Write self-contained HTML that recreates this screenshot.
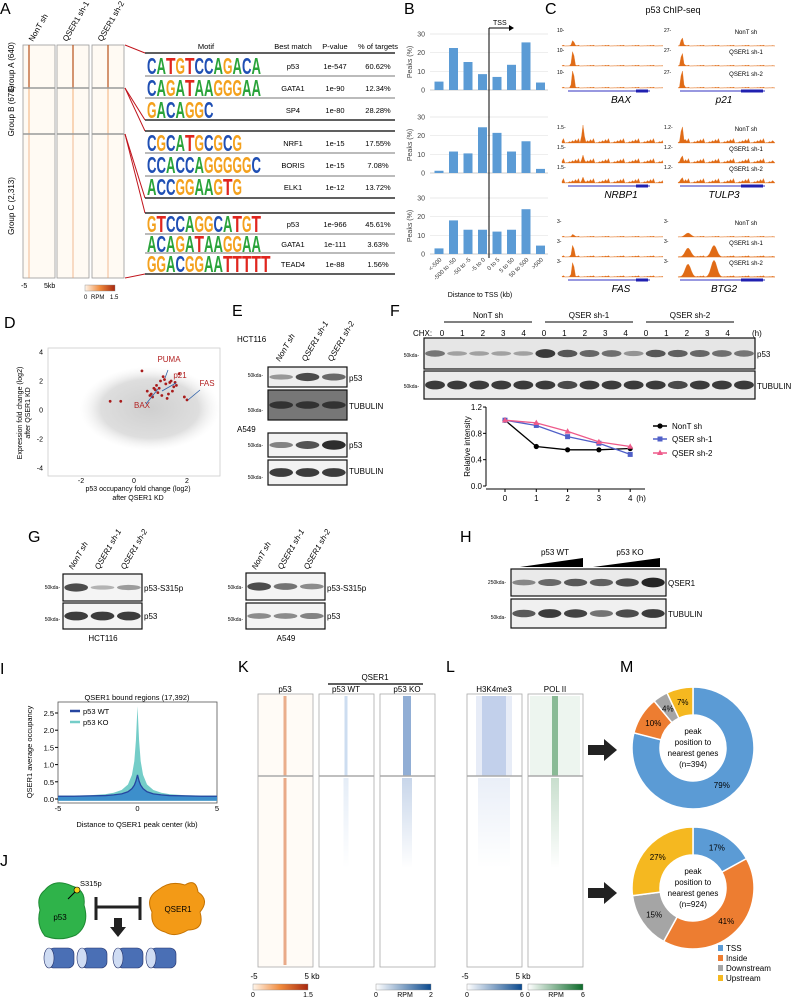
<!DOCTYPE html>
<html><head><meta charset="utf-8">
<style>
html,body{margin:0;padding:0;background:#fff;}
#fig{position:relative;width:798px;height:997px;overflow:hidden;font-family:"Liberation Sans",sans-serif;}
svg text{font-family:"Liberation Sans",sans-serif;}
</style></head>
<body>
<div id="fig">
<svg id="s" width="798" height="997" viewBox="0 0 798 997" xmlns="http://www.w3.org/2000/svg">
<defs>
<linearGradient id="gOr" x1="0" x2="1"><stop offset="0" stop-color="#fff5ea"/><stop offset="0.5" stop-color="#f08a3c"/><stop offset="1" stop-color="#a8280f"/></linearGradient>
<linearGradient id="gBl" x1="0" x2="1"><stop offset="0" stop-color="#fff"/><stop offset="1" stop-color="#0b4a8f"/></linearGradient>
<linearGradient id="gGr" x1="0" x2="1"><stop offset="0" stop-color="#fff"/><stop offset="1" stop-color="#0d6b2a"/></linearGradient>
<radialGradient id="cloud"><stop offset="0" stop-color="#cfcfcf"/><stop offset="0.7" stop-color="#dedede"/><stop offset="1" stop-color="#f2f2f2" stop-opacity="0"/></radialGradient>
<linearGradient id="fadeV" x1="0" y1="0" x2="0" y2="1"><stop offset="0" stop-color="#fff" stop-opacity="0"/><stop offset="1" stop-color="#fff" stop-opacity="1"/></linearGradient>
</defs>
<g font-size="16">
<text x="0" y="14">A</text>
<text x="404" y="14">B</text>
<text x="545" y="14">C</text>
<text x="4" y="328">D</text>
<text x="232" y="316">E</text>
<text x="390" y="316">F</text>
<text x="28" y="542">G</text>
<text x="460" y="542">H</text>
<text x="0" y="674">I</text>
<text x="0" y="866">J</text>
<text x="238" y="672">K</text>
<text x="446" y="672">L</text>
<text x="620" y="672">M</text>
</g>
<g id="A"></g><g id="B"></g><g id="C"></g><g id="D"></g><g id="E"></g><g id="F"></g><g id="G"></g><g id="H"></g><g id="I"></g><g id="J"></g><g id="K"></g><g id="M"></g>
</svg>
</div>
<script>
var NS="http://www.w3.org/2000/svg";
function mk(p,tag,a,txt){var e=document.createElementNS(NS,tag);for(var k in a)e.setAttribute(k,a[k]);if(txt!==undefined)e.textContent=txt;p.appendChild(e);return e;}
function G(id){return document.getElementById(id);}

/* ---------- Panel A ---------- */
var A=G('A');
var hmCols=[[23,29,'NonT sh'],[57,73,'QSER1 sh-1'],[92,108,'QSER1 sh-2']];
hmCols.forEach(function(c,i){
  var r=mk(A,'rect',{x:c[0],y:45,width:32,height:233,fill:'#fffaf3',stroke:'#999','stroke-width':0.8});
  
  
  mk(A,'rect',{x:c[1]-0.6,y:45,width:1.2,height:43,fill:'#b8501a'});
  mk(A,'rect',{x:c[1]-0.5,y:88,width:1,height:46,fill:'#f3b07a'});
  mk(A,'rect',{x:c[1]-0.5,y:134,width:1,height:144,fill:'#eaa06a',opacity:0.7});
  mk(A,'line',{x1:c[0],x2:c[0]+32,y1:88,y2:88,stroke:'#999','stroke-width':1.5});
  mk(A,'line',{x1:c[0],x2:c[0]+32,y1:134,y2:134,stroke:'#999','stroke-width':1.5});
  var t=mk(A,'text',{x:0,y:0,'font-size':8,transform:'translate('+(c[0]+10)+',42) rotate(-60)'},c[2]);
  
  
});
[['Group A (640)',67],['Group B (678)',111],['Group C (2,313)',206]].forEach(function(g){
  var t=mk(A,'text',{x:0,y:0,'font-size':8,'text-anchor':'middle',transform:'translate(14,'+g[1]+') rotate(-90)'},g[0]);
  
  
});
mk(A,'text',{x:21,y:288,'font-size':7},'-5');
mk(A,'text',{x:44,y:288,'font-size':7},'5kb');
var cb=mk(A,'rect',{x:85,y:285,width:30,height:6,fill:'url(#gOr)',stroke:'#888','stroke-width':0.4});


mk(A,'text',{x:84,y:299,'font-size':6},'0');
mk(A,'text',{x:91,y:299,'font-size':6},'RPM');
mk(A,'text',{x:110,y:299,'font-size':6},'1.5');
[[125,45,145,53],[125,88,145,120],[125,88,145,131],[125,134,145,198],[125,134,145,213],[125,278,145,274]].forEach(function(l){mk(A,'line',{x1:l[0],y1:l[1],x2:l[2],y2:l[3],stroke:'#c0141c','stroke-width':1});});
var hdr=[['Motif',206],['Best match',293],['P-value',335],['% of targets',378]];
hdr.forEach(function(h){var t=mk(A,'text',{x:h[1],y:49,'font-size':7.5,'text-anchor':'middle'},h[0]);});
var motifs=[['CATGTCCAGACA','p53','1e-547','60.62%',66],['CAGATAAGGGAA','GATA1','1e-90','12.34%',88],['GACAGGC','SP4','1e-80','28.28%',110],
 ['CGCATGCGCG','NRF1','1e-15','17.55%',143],['CCACCAGGGGGC','BORIS','1e-15','7.08%',165],['ACCGGAAGTG','ELK1','1e-12','13.72%',187],
 ['GTCCAGGCATGT','p53','1e-966','45.61%',224],['ACAGATAAGGAA','GATA1','1e-111','3.63%',244],['GGACGGAATTTTT','TEAD4','1e-88','1.56%',264]];
var col={A:'#2aa33a',C:'#1f4fb4',G:'#f4a11d',T:'#e0261f'};
motifs.forEach(function(m){
  var g=mk(A,'g',{});
  
  
  for(var i=0;i<m[0].length;i++){var ch=m[0][i];
    mk(g,'text',{x:147+i*9.5,y:m[4]+8,'font-size':23,'font-weight':'bold',fill:col[ch],textLength:9.5,lengthAdjust:'spacingAndGlyphs'},ch);}
  mk(g,'text',{x:293,y:m[4]+3,'font-size':7.5,'text-anchor':'middle'},m[1]);
  mk(g,'text',{x:335,y:m[4]+3,'font-size':7.5,'text-anchor':'middle'},m[2]);
  mk(g,'text',{x:378,y:m[4]+3,'font-size':7.5,'text-anchor':'middle'},m[3]);
});
[53,120,131,198,213,274].forEach(function(y){mk(A,'line',{x1:145,x2:395,y1:y,y2:y,stroke:'#000','stroke-width':1.2});});
[76,98,153,176,234,253].forEach(function(y){mk(A,'line',{x1:145,x2:395,y1:y,y2:y,stroke:'#777','stroke-width':1});});

/* ---------- Panel B ---------- */
var bCats=['<-500','-500 to -50','-50 to -5','-5 to 0','0 to 5','5 to 50','50 to 500','>500'];
var bTicks=[0,10,20,30];
var bTop=[4.5,22.5,15,8.5,7,13.5,25.5,4];
var bMid=[1.2,11.5,10.5,24.5,21.5,11.5,17,2.2];
var bBot=[3,18,13,13,12,13,24,4.5];
var B=G('B');
function bx(i){return 439+i*14.5;}
function drawBars(vals,y0,nm){
  var ys=function(v){return y0-v*56/30;};
  bTicks.forEach(function(t){
    mk(B,'line',{x1:430,x2:548,y1:ys(t),y2:ys(t),stroke:t?'#e3e3e3':'#bbb','stroke-width':0.7});
    mk(B,'text',{x:425,y:ys(t)+2.5,'font-size':7,'text-anchor':'end',fill:'#444'},t);
  });
  var yl=mk(B,'text',{x:0,y:0,'font-size':7,'text-anchor':'middle',fill:'#444',transform:'translate(412,'+(y0-28)+') rotate(-90)'},'Peaks (%)');
  
  
  vals.forEach(function(v,i){
    var r=mk(B,'rect',{x:bx(i)-4.5,y:ys(v),width:9,height:v*56/30,fill:'#5b9bd5'});
    
    
  });
}
drawBars(bTop,90,'b-top');drawBars(bMid,173,'b-mid');drawBars(bBot,254,'b-bot');
bCats.forEach(function(c,i){var t=mk(B,'text',{x:0,y:0,'font-size':6,'text-anchor':'end',fill:'#333',transform:'translate('+(bx(i)+3)+',260) rotate(-45)'},c);});
mk(B,'text',{x:480,y:297,'font-size':7,'text-anchor':'middle'},'Distance to TSS (kb)');
mk(B,'line',{x1:489,x2:489,y1:28,y2:258,stroke:'#000','stroke-width':1});
mk(B,'line',{x1:489,x2:510,y1:28,y2:28,stroke:'#000','stroke-width':1});
mk(B,'path',{d:'M509,25 L514,28 L509,31 Z',fill:'#000'});
mk(B,'text',{x:493,y:25,'font-size':7},'TSS');

/* ---------- Panel C ---------- */
var C=G('C');
mk(C,'text',{x:673,y:13,'font-size':9,'text-anchor':'middle'},'p53 ChIP-seq');
var cGenes=[['BAX','p21'],['NRBP1','TULP3'],['FAS','BTG2']];
var cBase=[[46,66,88],[143,163,183],[237,257,277]];
var cPeakL=[[6,16,19],[18,8,6],[3,13,16]];
var cPeakR=[[9,14,19],[18,8,6],[4,9,13]];
var cNoise=[[1,1,1],[5,5,5],[1,1.5,1.5]];
var cScale=[['10-','27-'],['1.5-','1.2-'],['3-','3-']];
function track(x0,x1,yb,pk,px,nz,broad){
  var d='M'+x0+','+yb;
  for(var x=x0;x<=x1;x+=1.5){
    var h=((x*7)%5)/5*nz*((x*13)%3>1?1:0.4);
    var dd=Math.abs(x-px); var w=broad?4:1.5;
    if(dd<w*2) h=Math.max(h,pk*Math.exp(-dd*dd/(w*w)));
    d+=' L'+x+','+(yb-h);
  }
  d+=' L'+x1+','+yb+' Z';
  return mk(C,'path',{d:d,fill:'#e06b16',stroke:'#e06b16','stroke-width':0.3});
}
for(var gi=0;gi<3;gi++){
  for(var t=0;t<3;t++){
    var p1=track(562,663,cBase[gi][t],cPeakL[gi][t],gi==1?583:573,cNoise[gi][t],false);
    
    
    var p2=track(678,775,cBase[gi][t],cPeakR[gi][t],gi==2?688:682,cNoise[gi][t],gi==2);
    
    
    if(gi==2&&t>0){track(678,775,cBase[gi][t],cPeakR[gi][t]*1.3,714,0,true);}
    mk(C,'text',{x:746,y:cBase[gi][t]-12,'font-size':6,'text-anchor':'middle'},['NonT sh','QSER1 sh-1','QSER1 sh-2'][t]);
    mk(C,'text',{x:557,y:cBase[gi][t]-14,'font-size':5},cScale[gi][0]);
    mk(C,'text',{x:664,y:cBase[gi][t]-14,'font-size':5},cScale[gi][1]);
  }
  var gy=cBase[gi][2]+3;
  mk(C,'line',{x1:568,x2:650,y1:gy,y2:gy,stroke:'#3030c0','stroke-width':1});
  mk(C,'rect',{x:636,y:gy-1.5,width:12,height:3,fill:'#2020b0'});
  mk(C,'line',{x1:680,x2:765,y1:gy,y2:gy,stroke:'#3030c0','stroke-width':1});
  mk(C,'rect',{x:741,y:gy-1.5,width:22,height:3,fill:'#2020b0'});
  var l1=mk(C,'text',{x:621,y:gy+12,'font-size':10,'font-style':'italic','text-anchor':'middle'},cGenes[gi][0]);
  
  
  var l2=mk(C,'text',{x:724,y:gy+12,'font-size':10,'font-style':'italic','text-anchor':'middle'},cGenes[gi][1]);
  
  
}

/* ---------- Panel D ---------- */
var dRedX=[1.0,1.2,0.8,1.5,0.6,0.9,1.3,1.1,0.7,1.6,1.4,0.95,1.25,0.5,1.05,1.7,0.85,1.35,0.75,1.15,-0.9,-0.5,1.9,2.0,0.65,1.45,1.55,0.3];
var dRedY=[2.0,1.8,1.4,1.6,1.0,1.2,1.1,2.3,0.9,1.7,2.0,1.5,0.8,1.3,1.0,2.5,1.7,1.9,1.5,2.1,0.6,0.6,0.9,0.7,1.1,1.3,1.9,2.7];
var dTicks=[-4,-2,0,2,4];
var D=G('D');
function dxs(v){return 134+v*26.5;}
function dys(v){return 410-v*14.5;}
var db=mk(D,'rect',{x:48,y:348,width:172,height:128,fill:'#fff',stroke:'#ccc','stroke-width':0.8});


var cl=mk(D,'ellipse',{cx:dxs(0.6),cy:dys(0.1),rx:70,ry:42,fill:'url(#cloud)'});


dRedX.forEach(function(x,i){var c=mk(D,'circle',{cx:dxs(x),cy:dys(dRedY[i]),r:1.4,fill:'#a81c1c'});});
[-2,0,2].forEach(function(t){mk(D,'text',{x:dxs(t),y:483,'font-size':7,'text-anchor':'middle'},t);});
dTicks.forEach(function(t){mk(D,'text',{x:43,y:dys(t)+2.5,'font-size':7,'text-anchor':'end'},t);});
mk(D,'text',{x:0,y:0,'font-size':7,'text-anchor':'middle',transform:'translate(22,413) rotate(-90)'},'Expression fold change (log2)');
mk(D,'text',{x:0,y:0,'font-size':7,'text-anchor':'middle',transform:'translate(30,413) rotate(-90)'},'after QSER1 KD');
mk(D,'text',{x:138,y:491,'font-size':7,'text-anchor':'middle'},'p53 occupancy fold change (log2)');
mk(D,'text',{x:138,y:500,'font-size':7,'text-anchor':'middle'},'after QSER1 KD');
[['PUMA',169,362,168,370,165,378],['p21',180,378,176,383,162,391],['FAS',207,386,200,390,188,400],['BAX',142,408,146,404,158,389]].forEach(function(a){
  mk(D,'text',{x:a[1],y:a[2],'font-size':8,fill:'#b22222','text-anchor':'middle'},a[0]);
  mk(D,'line',{x1:a[3],y1:a[4],x2:a[5],y2:a[6],stroke:'#2b5fa8','stroke-width':0.8});
});

/* ---------- Blots helper ---------- */
function blot(p,x,y,w,h,bands,bg,nm){
  var g=mk(p,'g',{});
  
  
  mk(g,'rect',{x:x,y:y,width:w,height:h,fill:bg||'#f4f4f4',stroke:'#111','stroke-width':1.2});
  var n=bands.length,bw=w/n;
  bands.forEach(function(v,i){ if(v>0) mk(g,'ellipse',{cx:x+bw*(i+0.5),cy:y+h/2,rx:bw*0.45,ry:2+v*3,fill:'#111',opacity:0.25+v*0.7}); });
  return g;
}
function lbl(p,x,y,t,s,anchor){return mk(p,'text',{x:x,y:y,'font-size':s||8,'text-anchor':anchor||'start'},t);}
/* ---------- Panel E ---------- */
var E=G('E');
lbl(E,237,342,'HCT116',8);
['NonT sh','QSER1 sh-1','QSER1 sh-2'].forEach(function(t,i){mk(E,'text',{x:0,y:0,'font-size':8,'font-style':'italic',transform:'translate('+(280+i*26)+',362) rotate(-60)'},t);});
blot(E,268,367,79,20,[0.2,0.7,0.5],'#eee','blot-e-hct116-p53');lbl(E,349,381,'p53');
blot(E,268,390,79,30,[0.6,0.6,0.6],'#777','blot-e-hct116-tubulin');lbl(E,349,409,'TUBULIN');
lbl(E,237,432,'A549',8);
blot(E,268,433,79,24,[0.35,0.65,0.9],'#f2f2f2','blot-e-a549-p53');lbl(E,349,448,'p53');
blot(E,268,460,79,25,[0.8,0.8,0.8],'#f2f2f2','blot-e-a549-tubulin');lbl(E,349,474,'TUBULIN');
[[377,'50kda'],[412,'50kda'],[447,'50kda'],[479,'50kda']].forEach(function(a){lbl(E,263,a[0],a[1]+'-',5,'end');});

/* ---------- Panel F ---------- */
var F=G('F');
['NonT sh','QSER sh-1','QSER sh-2'].forEach(function(t,i){var x=488+i*101;lbl(F,x,318,t,8,'middle');mk(F,'line',{x1:x-44,x2:x+44,y1:322,y2:322,stroke:'#000'});});
lbl(F,413,336,'CHX:',8);
for(var i=0;i<15;i++){lbl(F,442+i*20.4,336,String(i%5),8,'middle');}
lbl(F,752,336,'(h)',8);
blot(F,424,338,331,31,[0.4,0.1,0.1,0.1,0.1,0.8,0.6,0.5,0.45,0.2,0.6,0.55,0.5,0.45,0.4],'#e6e6e6','blot-f-p53');lbl(F,757,357,'p53');
blot(F,424,371,331,28,[0.8,0.8,0.8,0.8,0.8,0.8,0.7,0.8,0.8,0.8,0.8,0.7,0.8,0.8,0.8],'#ececec','blot-f-tubulin');lbl(F,757,389,'TUBULIN');
lbl(F,419,357,'50kda-',5,'end');lbl(F,419,388,'50kda-',5,'end');
var fHours=[0,1,2,3,4];
var fNonT=[1.0,0.6,0.55,0.55,0.57];
var fSh1=[1.0,0.92,0.75,0.65,0.48];
var fSh2=[1.0,0.96,0.83,0.67,0.6];
var fYT=[0.0,0.4,0.8,1.2];
function fx(v){return 505+v*31.3;}function fy(v){return 486-v*65.8;}
mk(F,'line',{x1:486,x2:486,y1:fy(1.2),y2:fy(0),stroke:'#000'});
mk(F,'line',{x1:486,x2:645,y1:fy(0)+3,y2:fy(0)+3,stroke:'#000'});
fYT.forEach(function(t){mk(F,'line',{x1:483,x2:486,y1:fy(t),y2:fy(t),stroke:'#000'});lbl(F,482,fy(t)+3,t.toFixed(1),8,'end');});
fHours.forEach(function(h){mk(F,'line',{x1:fx(h),x2:fx(h),y1:fy(0)+3,y2:fy(0)+6,stroke:'#000'});lbl(F,fx(h),fy(0)+15,String(h),8,'middle');});
lbl(F,fx(4)+6,fy(0)+15,'(h)',8);
mk(F,'text',{x:0,y:0,'font-size':8,'text-anchor':'middle',transform:'translate(470,'+fy(0.6)+') rotate(-90)'},'Relative intensity');
[[fNonT,'#000','circle','nont-sh'],[fSh1,'#5060c8','square','qser-sh-1'],[fSh2,'#ee5a8a','tri','qser-sh-2']].forEach(function(s){
  var pts=s[0].map(function(v,i){return fx(fHours[i])+','+fy(v);}).join(' ');
  var pl=mk(F,'polyline',{points:pts,fill:'none',stroke:s[1],'stroke-width':1.3});
  
  
  s[0].forEach(function(v,i){var X=fx(fHours[i]),Y=fy(v);var m;
    if(s[2]=='circle')m=mk(F,'circle',{cx:X,cy:Y,r:2.6,fill:s[1]});
    else if(s[2]=='square')m=mk(F,'rect',{x:X-2.5,y:Y-2.5,width:5,height:5,fill:s[1]});
    else m=mk(F,'path',{d:'M'+X+','+(Y-3.2)+' L'+(X+3)+','+(Y+2.2)+' L'+(X-3)+','+(Y+2.2)+'Z',fill:s[1]});
    
    });
});
[['NonT sh','#000',429,'circle'],['QSER sh-1','#5060c8',442,'square'],['QSER sh-2','#ee5a8a',456,'tri']].forEach(function(l){
  var g=mk(F,'g',{});
  mk(g,'line',{x1:653,x2:667,y1:l[2]-3,y2:l[2]-3,stroke:l[1],'stroke-width':1.5});
  if(l[3]=='circle')mk(g,'circle',{cx:660,cy:l[2]-3,r:2.6,fill:l[1]});
  else if(l[3]=='square')mk(g,'rect',{x:657.5,y:l[2]-5.5,width:5,height:5,fill:l[1]});
  else mk(g,'path',{d:'M660,'+(l[2]-6.5)+' L663,'+(l[2]-1)+' L657,'+(l[2]-1)+'Z',fill:l[1]});
  lbl(g,672,l[2],l[0],8);
});

/* ---------- Panel G ---------- */
var Gp=G('G');
[[63,'HCT116',[0.7,0.05,0.2],[0.8,0.8,0.8]],[246,'A549',[0.7,0.45,0.3],[0.3,0.3,0.35]]].forEach(function(b,k){
  ['NonT sh','QSER1 sh-1','QSER1 sh-2'].forEach(function(t,i){mk(Gp,'text',{x:0,y:0,'font-size':8,'font-style':'italic',transform:'translate('+(b[0]+10+i*26)+',570) rotate(-60)'},t);});
  blot(Gp,b[0],574+(k?-1:0),79,27,b[2],'#f4f4f4','blot-g-s315p-'+(k?'a549':'hct116'));
  blot(Gp,b[0],603,79,26,b[3],'#f4f4f4','blot-g-p53-'+(k?'a549':'hct116'));
  lbl(Gp,b[0]+81,591,'p53-S315p',8);lbl(Gp,b[0]+81,619,'p53',8);
  lbl(Gp,b[0]-3,589,'50kda-',5,'end');lbl(Gp,b[0]-3,621,'50kda-',5,'end');
  lbl(Gp,b[0]+40,641,b[1],8,'middle');
});

/* ---------- Panel H ---------- */
var H=G('H');
lbl(H,555,555,'p53 WT',8,'middle');lbl(H,630,555,'p53 KO',8,'middle');
mk(H,'path',{d:'M520,567 L583,567 L583,558 Z',fill:'#000'});
mk(H,'path',{d:'M593,567 L660,567 L660,558 Z',fill:'#000'});
blot(H,511,569,155,27,[0.3,0.5,0.6,0.55,0.7,0.95],'#eaeaea','blot-h-qser1');lbl(H,668,586,'QSER1',8);
blot(H,511,599,155,29,[0.6,0.8,0.75,0.45,0.7,0.8],'#f0f0f0','blot-h-tubulin');lbl(H,668,617,'TUBULIN',8);
lbl(H,506,584,'250kda-',5,'end');lbl(H,506,619,'50kda-',5,'end');

/* ---------- Panel I ---------- */
var iX=[-5,-4,-3,-2,-1.5,-1,-0.6,-0.35,-0.2,-0.1,0,0.1,0.2,0.35,0.6,1,1.5,2,3,4,5];
var iWT=[0.08,0.08,0.09,0.1,0.12,0.15,0.21,0.3,0.4,0.52,0.7,0.52,0.4,0.3,0.21,0.15,0.12,0.1,0.09,0.08,0.08];
var iKO=[0.1,0.1,0.11,0.14,0.18,0.26,0.42,0.7,1.1,1.7,2.7,1.7,1.1,0.7,0.42,0.26,0.18,0.14,0.11,0.1,0.1];
var iYT=[0.0,0.5,1.0,1.5,2.0,2.5];
var iXT=[-5,0,5];
var I=G('I');
function ix(v){return 137.5+v*15.9;}function iy(v){return 799-v*34.4;}
var ib=mk(I,'rect',{x:58,y:702,width:159,height:101,fill:'#fff',stroke:'#555','stroke-width':0.8});

function area(vals){var d='M'+ix(iX[0])+','+iy(-0.05);iX.forEach(function(x,i){d+=' L'+ix(x)+','+iy(vals[i]);});return d+' L'+ix(5)+','+iy(-0.05)+'Z';}
var ak=mk(I,'path',{d:area(iKO),fill:'#74cdc8'});
var aw=mk(I,'path',{d:area(iWT),fill:'#3d8fcb'});
var lw=mk(I,'polyline',{points:iX.map(function(x,i){return ix(x)+','+iy(iWT[i]);}).join(' '),fill:'none',stroke:'#2646a0','stroke-width':1.3});

iYT.forEach(function(t){mk(I,'line',{x1:55,x2:58,y1:iy(t),y2:iy(t),stroke:'#000'});lbl(I,54,iy(t)+3,t.toFixed(1),7.5,'end');});
iXT.forEach(function(t){lbl(I,ix(t),811,String(t),7.5,'middle');});
lbl(I,137,827,'Distance to QSER1 peak center (kb)',7.5,'middle');
lbl(I,137,700,'QSER1 bound regions (17,392)',7.5,'middle');
mk(I,'text',{x:0,y:0,'font-size':7.5,'text-anchor':'middle',transform:'translate(32,752) rotate(-90)'},'QSER1 average occupancy');
mk(I,'line',{x1:70,x2:80,y1:711,y2:711,stroke:'#2646a0','stroke-width':2.5});lbl(I,83,714,'p53 WT',7.5);
mk(I,'line',{x1:70,x2:80,y1:722,y2:722,stroke:'#74cdc8','stroke-width':2.5});lbl(I,83,725,'p53 KO',7.5);

/* ---------- Panel J ---------- */
var J=G('J');
var jp=mk(J,'path',{d:'M45,890 Q55,878 72,886 Q86,890 84,905 Q90,925 76,935 Q60,942 45,936 Q36,925 40,910 Q36,897 45,890Z',fill:'#2fb34a',stroke:'#1e8a33'});

lbl(J,60,920,'p53',8,'middle');
mk(J,'line',{x1:68,x2:76,y1:899,y2:891,stroke:'#000'});mk(J,'circle',{cx:77,cy:890,r:3,fill:'#f5d21a',stroke:'#000','stroke-width':0.6});
lbl(J,80,886,'S315p',7.5);
var jq=mk(J,'path',{d:'M158,890 Q170,880 185,885 Q196,878 198,892 Q210,900 200,912 Q205,930 188,930 Q175,938 165,932 Q150,928 152,912 Q145,898 158,890Z',fill:'#f39a16',stroke:'#c57200'});

lbl(J,178,912,'QSER1',8,'middle');
mk(J,'line',{x1:96,x2:140,y1:907,y2:907,stroke:'#222','stroke-width':3});
mk(J,'line',{x1:96,x2:96,y1:897,y2:920,stroke:'#222','stroke-width':3});
mk(J,'line',{x1:140,x2:140,y1:897,y2:920,stroke:'#222','stroke-width':3});
mk(J,'path',{d:'M114,918 L122,918 L122,927 L126,927 L118,937 L110,927 L114,927Z',fill:'#222'});
[60,93,129,162].forEach(function(x){var c=mk(J,'rect',{x:x-12,y:948,width:26,height:20,rx:6,fill:'#4a6fb5',stroke:'#22306a','stroke-width':0.6});
 mk(J,'ellipse',{cx:x-11,cy:958,rx:5,ry:10,fill:'#cfdcf3',stroke:'#22306a','stroke-width':0.6});});

/* ---------- Panel K / L heatmaps ---------- */
var K=G('K');
var kCols=[['p53',258,'#d45a1a',0.8,1.5],['p53 WT',319,'#2c6fbf',0.4,1.5],['p53 KO',380,'#1a55a8',0.8,4],['H3K4me3',467,'#3a66c0',0.35,12],['POL II',528,'#1d7a34',0.8,3]];
kCols.forEach(function(c,i){
  var x=c[1],cx=x+27,bw=c[4];
  var r=mk(K,'rect',{x:x,y:694,width:55,height:273,fill:i==0?'#fffbf6':'#fff',stroke:'#aaa','stroke-width':0.8});
  
  
  if(i==3)mk(K,'rect',{x:cx-bw-6,y:696,width:bw*2+12,height:80,fill:c[2],opacity:0.12});
  if(i==4)mk(K,'rect',{x:x+2,y:696,width:50,height:80,fill:c[2],opacity:0.08});
  mk(K,'rect',{x:cx-bw,y:696,width:bw*2,height:80,fill:c[2],opacity:c[3]*0.6});
  if(i==0){mk(K,'rect',{x:cx-bw,y:778,width:bw*2,height:187,fill:c[2],opacity:0.5});}
  else{
    mk(K,'rect',{x:cx-bw-(i==3?4:1),y:778,width:bw*2+(i==3?8:2),height:90,fill:c[2],opacity:c[3]*0.3});
    mk(K,'rect',{x:cx-bw-6,y:778,width:bw*2+12,height:90,fill:'url(#fadeV)'});
  }
  mk(K,'line',{x1:x,x2:x+55,y1:776,y2:776,stroke:'#aaa','stroke-width':1.5});
  lbl(K,cx,692,c[0],8,'middle');
});
lbl(K,375,680,'QSER1',8,'middle');mk(K,'line',{x1:328,x2:423,y1:684,y2:684,stroke:'#000','stroke-width':1.2});
lbl(K,254,979,'-5',8,'middle');lbl(K,312,979,'5 kb',8,'middle');
lbl(K,465,979,'-5',8,'middle');lbl(K,523,979,'5 kb',8,'middle');
[[253,'url(#gOr)','0','1.5'],[376,'url(#gBl)','0','2'],[467,'url(#gBl)','0','6'],[528,'url(#gGr)','0','6']].forEach(function(c){
  var r=mk(K,'rect',{x:c[0],y:984,width:55,height:6,fill:c[1],stroke:'#888','stroke-width':0.4});
  
  lbl(K,c[0],997,c[2],7,'middle');lbl(K,c[0]+55,997,c[3],7,'middle');
});
lbl(K,405,997,'RPM',7,'middle');lbl(K,556,997,'RPM',7,'middle');

/* ---------- Panel M donuts ---------- */
var mCats=['TSS','Inside','Downstream','Upstream'];
var mTop=[79,10,4,7];
var mBot=[17,41,15,27];
var mColors=['#5b9bd5','#ed7d31','#a5a5a5','#f5b820'];
var M=G('M');
function donut(vals,cx,cy,n,nm){
  var tot=vals.reduce(function(a,b){return a+b;},0),a0=-Math.PI/2,R=61,r=33;
  vals.forEach(function(v,i){
    var a1=a0+v/tot*2*Math.PI,lg=(a1-a0)>Math.PI?1:0;
    var d='M'+(cx+R*Math.cos(a0))+','+(cy+R*Math.sin(a0))+' A'+R+','+R+' 0 '+lg+' 1 '+(cx+R*Math.cos(a1))+','+(cy+R*Math.sin(a1))+
      ' L'+(cx+r*Math.cos(a1))+','+(cy+r*Math.sin(a1))+' A'+r+','+r+' 0 '+lg+' 0 '+(cx+r*Math.cos(a0))+','+(cy+r*Math.sin(a0))+'Z';
    var p=mk(M,'path',{d:d,fill:mColors[i],stroke:'#fff','stroke-width':1.5});
    
    
    var am=(a0+a1)/2,rr=47;
    lbl(M,cx+rr*Math.cos(am),cy+rr*Math.sin(am)+3,v+'%',8,'middle');
    a0=a1;
  });
  lbl(M,cx,cy-14,'peak',8,'middle');lbl(M,cx,cy-3,'position to',8,'middle');lbl(M,cx,cy+8,'nearest genes',8,'middle');lbl(M,cx,cy+19,'(n='+n+')',8,'middle');
}
donut(mTop,693,748,394,'donut-top');
donut(mBot,693,888,924,'donut-bottom');
[750,893].forEach(function(y){var a=mk(M,'path',{d:'M588,'+(y-5)+' L604,'+(y-5)+' L604,'+(y-11)+' L617,'+y+' L604,'+(y+11)+' L604,'+(y+5)+' L588,'+(y+5)+'Z',fill:'#222'});});
mCats.forEach(function(c,i){var g=mk(M,'g',{});
  mk(g,'rect',{x:718,y:945+i*10,width:5,height:6,fill:mColors[i]});lbl(g,726,951+i*10,c,8);});
</script>
</body></html>
